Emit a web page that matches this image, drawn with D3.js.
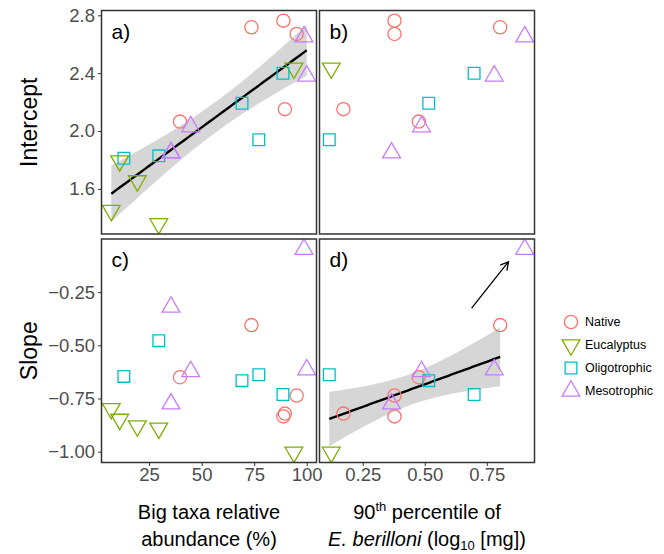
<!DOCTYPE html>
<html lang="en">
<head>
<meta charset="UTF-8">
<title>Intercept and slope against big taxa and E. berilloni size</title>
<script src="https://d3js.org/d3.v7.min.js"></script>
<style>
  body { margin: 0; background: white; }
  svg text { font-family: "Liberation Sans", Arial, sans-serif; }
</style>
</head>
<body>
<div id="chart"></div>
<script>
// one entry per site, same order in every array (null = not measured)
const siteType = ["Native", "Native", "Native", "Native", "Native",
  "Eucalyptus", "Eucalyptus", "Eucalyptus", "Eucalyptus", "Eucalyptus",
  "Oligotrophic", "Oligotrophic", "Oligotrophic", "Oligotrophic", "Oligotrophic",
  "Mesotrophic", "Mesotrophic", "Mesotrophic", "Mesotrophic", "Mesotrophic"];
const bigTaxa = [73.7, 88.9, 95.2, 89.6, 39.7, 93.9, 11.0, 19.4, 7.0, 29.6,
  13.0, 29.6, 69.2, 77.2, 88.7, 44.8, 35.4, 98.7, 100.0, 35.4];
const p90Mass = [0.804, 0.378, 0.378, 0.172, 0.476, 0.123, null, null, null, null,
  null, null, 0.516, 0.115, 0.699, 0.487, 0.366, 0.903, 0.780, null];
const intercept = [2.717, 2.763, 2.671, 2.151, 2.065, 2.434, 1.793, 1.655, 1.450, 1.358,
  1.812, 1.828, 2.192, 1.939, 2.399, 2.030, 1.849, 2.652, 2.381, 1.850];
const slope = [-0.405, -0.834, -0.736, -0.821, -0.650, -1.003, -0.848, -0.879, -0.798, -0.890,
  -0.646, -0.478, -0.666, -0.638, -0.731, -0.623, -0.775, -0.048, -0.615, -0.320];
// site left out of the slope ~ size fit (marked with the arrow)
const flaggedSite = 17;

const types = ["Native", "Eucalyptus", "Oligotrophic", "Mesotrophic"];
const typeColors = ["#F8766D", "#7CAE00", "#00BFC4", "#C77CFF"];
const typeShapes = ["circle", "triangleDown", "square", "triangleUp"];

const bigTicks = [25, 50, 75, 100];
const p90Ticks = [0.25, 0.50, 0.75];
const interceptTicks = [1.6, 2.0, 2.4, 2.8];
const slopeTicks = [-1.00, -0.75, -0.50, -0.25];

const width = 664, height = 554;
const cols = [{x: 101.5, w: 215}, {x: 319.5, w: 215}];
const rows = [{y: 10.5, h: 223.5}, {y: 239, h: 223.5}];
const ptR = 6.6;
const tickFont = 18.5;

const sites = siteType.map((t, i) => ({
  type: t, big: bigTaxa[i], p90: p90Mass[i], int: intercept[i], slope: slope[i], idx: i
}));

// ggplot-like 5% expansion
function expanded(vals) {
  const [a, b] = d3.extent(vals.filter(v => v != null));
  const pad = (b - a) * 0.05;
  return [a - pad, b + pad];
}

const xScales = {
  big: d3.scaleLinear().domain(expanded(bigTaxa)).range([0, cols[0].w]),
  p90: d3.scaleLinear().domain(expanded(p90Mass)).range([0, cols[1].w])
};
const yScales = {
  int: d3.scaleLinear().domain(expanded(intercept)).range([rows[0].h, 0]),
  slope: d3.scaleLinear().domain(expanded(slope)).range([rows[1].h, 0])
};

function shapePath(shape, r) {
  if (shape === "circle") {
    return `M${-r},0A${r},${r} 0 1,0 ${r},0A${r},${r} 0 1,0 ${-r},0Z`;
  }
  if (shape === "square") {
    const s = r * 0.8862;
    return `M${-s},${-s}H${s}V${s}H${-s}Z`;
  }
  const top = r * 1.5551, half = r * 1.3468, base = r * 0.7776;
  if (shape === "triangleUp") return `M0,${-top}L${half},${base}L${-half},${base}Z`;
  return `M0,${top}L${half},${-base}L${-half},${-base}Z`;
}

function tQuant(df) {
  const z = 1.959964;
  return z + (z ** 3 + z) / (4 * df) + (5 * z ** 5 + 16 * z ** 3 + 3 * z) / (96 * df * df)
    + (3 * z ** 7 + 19 * z ** 5 + 17 * z ** 3 - 15 * z) / (384 * df ** 3);
}

// lm fit with 95% confidence band
function lmBand(pts, steps) {
  const n = pts.length;
  const mx = d3.mean(pts, d => d.x), my = d3.mean(pts, d => d.y);
  const sxx = d3.sum(pts, d => (d.x - mx) ** 2);
  const sxy = d3.sum(pts, d => (d.x - mx) * (d.y - my));
  const b = sxy / sxx, a = my - b * mx;
  const s = Math.sqrt(d3.sum(pts, d => (d.y - a - b * d.x) ** 2) / (n - 2));
  const t = tQuant(n - 2);
  const [lo, hi] = d3.extent(pts, d => d.x);
  return d3.range(steps + 1).map(i => {
    const x = lo + (hi - lo) * i / steps;
    const yh = a + b * x;
    const se = s * Math.sqrt(1 / n + (x - mx) ** 2 / sxx);
    return {x: x, y: yh, lo: yh - t * se, hi: yh + t * se};
  });
}

const panels = [
  {tag: "a)", col: 0, row: 0, xKey: "big", yKey: "int", fit: true},
  {tag: "b)", col: 1, row: 0, xKey: "p90", yKey: "int", fit: false},
  {tag: "c)", col: 0, row: 1, xKey: "big", yKey: "slope", fit: false},
  {tag: "d)", col: 1, row: 1, xKey: "p90", yKey: "slope", fit: true, arrow: true}
];

const svg = d3.select("#chart").append("svg")
  .attr("width", width)
  .attr("height", height);

const defs = svg.append("defs");

function styleAxis(ax) {
  ax.select(".domain").remove();
  ax.selectAll("line").attr("stroke", "#333333");
  ax.selectAll("text").attr("fill", "#4D4D4D").attr("font-size", tickFont)
    .style("font-family", "'Liberation Sans', Arial, sans-serif");
}

panels.forEach((p, k) => {
  const c = cols[p.col], r = rows[p.row];
  const x = xScales[p.xKey], y = yScales[p.yKey];
  const g = svg.append("g").attr("transform", `translate(${c.x},${r.y})`);

  defs.append("clipPath").attr("id", "clip" + k)
    .append("rect").attr("width", c.w).attr("height", r.h);
  const inner = g.append("g").attr("clip-path", `url(#clip${k})`);

  const pts = sites.filter(d => d[p.xKey] != null);

  if (p.fit) {
    const fitPts = pts.filter(d => !(p.arrow && d.idx === flaggedSite))
      .map(d => ({x: d[p.xKey], y: d[p.yKey]}));
    const band = lmBand(fitPts, 80);
    inner.append("path")
      .attr("d", d3.area().x(d => x(d.x)).y0(d => y(d.lo)).y1(d => y(d.hi))(band))
      .attr("fill", "#999999")
      .attr("fill-opacity", 0.4);
    inner.append("path")
      .attr("d", d3.line().x(d => x(d.x)).y(d => y(d.y))(band))
      .attr("fill", "none")
      .attr("stroke", "black")
      .attr("stroke-width", 2.4);
  }

  inner.selectAll("path.pt")
    .data(pts)
    .enter().append("path")
    .attr("class", "pt")
    .attr("transform", d => `translate(${x(d[p.xKey])},${y(d[p.yKey])})`)
    .attr("d", d => shapePath(typeShapes[types.indexOf(d.type)], ptR))
    .attr("fill", "none")
    .attr("stroke", d => typeColors[types.indexOf(d.type)])
    .attr("stroke-width", 1.3);

  if (p.arrow) {
    // arrow drawn in data units, pointing at the flagged site
    const x0 = x(0.689), y0 = y(-0.325), x1 = x(0.8375), y1 = y(-0.107);
    const ang = Math.atan2(y1 - y0, x1 - x0), len = 9;
    const hx = a => x1 - len * Math.cos(ang + a), hy = a => y1 - len * Math.sin(ang + a);
    inner.append("path")
      .attr("d", `M${x0},${y0}L${x1},${y1}M${hx(0.5)},${hy(0.5)}L${x1},${y1}L${hx(-0.5)},${hy(-0.5)}`)
      .attr("fill", "none")
      .attr("stroke", "black")
      .attr("stroke-width", 1.3);
  }

  g.append("text")
    .attr("x", 10)
    .attr("y", 28)
    .attr("font-size", 21)
    .attr("fill", "black")
    .text(p.tag);

  g.append("rect")
    .attr("width", c.w).attr("height", r.h)
    .attr("fill", "none")
    .attr("stroke", "#333333")
    .attr("stroke-width", 1.5);

  if (p.col === 0) {
    const ax = g.append("g")
      .call(d3.axisLeft(y)
        .tickValues(p.yKey === "int" ? interceptTicks : slopeTicks)
        .tickFormat(d3.format(p.yKey === "int" ? ".1f" : ".2f"))
        .tickSize(3.5).tickPadding(3));
    styleAxis(ax);
  }
  if (p.row === 1) {
    const ax = g.append("g")
      .attr("transform", `translate(0,${r.h})`)
      .call(d3.axisBottom(x)
        .tickValues(p.xKey === "big" ? bigTicks : p90Ticks)
        .tickFormat(d3.format(p.xKey === "big" ? "d" : ".2f"))
        .tickSize(3.5).tickPadding(2));
    styleAxis(ax);
  }
});

// y titles
[["Intercept", rows[0]], ["Slope", rows[1]]].forEach(([label, r]) => {
  svg.append("text")
    .attr("transform", `translate(29,${r.y + r.h / 2}) rotate(-90)`)
    .attr("text-anchor", "middle")
    .attr("dy", "0.35em")
    .attr("font-size", 23)
    .attr("fill", "black")
    .text(label);
});

// x titles
const xt1 = svg.append("g")
  .attr("transform", `translate(${cols[0].x + cols[0].w / 2},0)`)
  .attr("font-size", 20)
  .attr("text-anchor", "middle");
xt1.append("text").attr("y", 519).text("Big taxa relative");
xt1.append("text").attr("y", 546).text("abundance (%)");

const xt2 = svg.append("g")
  .attr("transform", `translate(${cols[1].x + cols[1].w / 2},0)`)
  .attr("font-size", 20)
  .attr("text-anchor", "middle");
const l1 = xt2.append("text").attr("y", 519);
l1.append("tspan").text("90");
l1.append("tspan").attr("font-size", 13).attr("dy", -8).text("th");
l1.append("tspan").attr("dy", 8).text(" percentile of");
const l2 = xt2.append("text").attr("y", 546);
l2.append("tspan").attr("font-style", "italic").text("E. berilloni");
l2.append("tspan").text(" (log");
l2.append("tspan").attr("font-size", 13).attr("dy", 4).text("10");
l2.append("tspan").attr("dy", -4).text(" [mg])");

// legend
const legend = svg.append("g").attr("transform", "translate(571,322)");
types.forEach((t, i) => {
  const row = legend.append("g").attr("transform", `translate(0,${i * 23})`);
  row.append("path")
    .attr("d", shapePath(typeShapes[i], ptR))
    .attr("fill", "none")
    .attr("stroke", typeColors[i])
    .attr("stroke-width", 1.3);
  row.append("text")
    .attr("x", 14)
    .attr("dy", "0.35em")
    .attr("font-size", 12.5)
    .attr("fill", "black")
    .text(t);
});
</script>
</body>
</html>
